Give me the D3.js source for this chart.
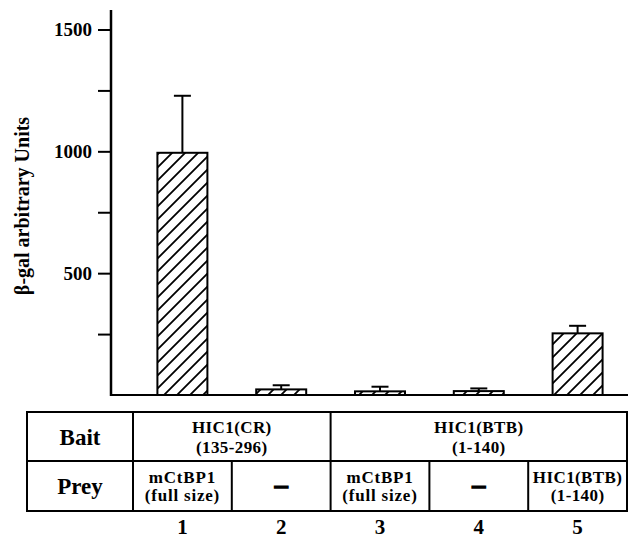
<!DOCTYPE html>
<html>
<head>
<meta charset="utf-8">
<script src="https://cdn.jsdelivr.net/npm/d3@7"></script>
<style>
  body { margin: 0; background: #fff; }
  text { font-family: "Liberation Serif", "Times New Roman", serif; font-weight: bold; fill: #000; }
</style>
</head>
<body>
<div id="chart"></div>
<script>
// lanes and β-gal values (mean, upper error bar top)
const lanes = ["1", "2", "3", "4", "5"]
const means = [994, 23, 15, 16, 253]
const errTops = [1228, 40, 34, 27, 284]

// y axis ticks
const yTicks = [250, 500, 750, 1000, 1250, 1500]
const yTickLabels = [500, 1000, 1500]

// table below the chart
const baitGroups = [
    { lines: ["HIC1(CR)", "(135-296)"], first: "1", last: "2" },
    { lines: ["HIC1(BTB)", "(1-140)"], first: "3", last: "5" }
]
const preyLabels = [
    ["mCtBP1", "(full size)"],
    ["–"],
    ["mCtBP1", "(full size)"],
    ["–"],
    ["HIC1(BTB)", "(1-140)"]
]

const W = 628, H = 540
const serif = "'Liberation Serif', 'Times New Roman', serif"

const svg = d3.select("#chart")
    .append("svg")
    .attr("width", W)
    .attr("height", H)

// hatch pattern "/"
const defs = svg.append("defs")
defs.append("pattern")
    .attr("id", "hatch")
    .attr("patternUnits", "userSpaceOnUse")
    .attr("width", 13)
    .attr("height", 13)
    .append("path")
    .attr("d", "M-2,2 l4,-4 M0,13 l13,-13 M11,15 l4,-4")
    .attr("stroke", "#000")
    .attr("stroke-width", 1.8)

// scales
const x = d3.scaleBand()
    .domain(lanes)
    .range([133, 627])
    .paddingInner(0.494)
    .paddingOuter(0.247)

const y = d3.scaleLinear()
    .domain([0, 1580])
    .range([395, 10])

const axisX = 111

// y axis
const yAxis = svg.append("g")
    .attr("transform", "translate(" + axisX + ",0)")
    .call(d3.axisLeft(y)
        .tickValues(yTicks)
        .tickSize(13)
        .tickPadding(6)
        .tickFormat(d => yTickLabels.includes(d) ? d : ""))
    .attr("font-family", serif)
    .attr("font-size", 19)
    .attr("font-weight", "bold")

yAxis.select(".domain").remove()
yAxis.selectAll(".tick line").attr("stroke", "#000").attr("stroke-width", 2)

svg.append("line")
    .attr("x1", axisX).attr("x2", axisX)
    .attr("y1", y.range()[1]).attr("y2", y(0) + 1)
    .attr("stroke", "#000").attr("stroke-width", 2.5)

// baseline
svg.append("line")
    .attr("x1", axisX).attr("x2", W)
    .attr("y1", y(0)).attr("y2", y(0))
    .attr("stroke", "#000").attr("stroke-width", 2)

// y label
svg.append("text")
    .attr("transform", "translate(29," + 206 + ") rotate(-90)")
    .attr("text-anchor", "middle")
    .style("font-size", "20px")
    .text("β-gal arbitrary Units")

// error bars
const errG = svg.append("g")
lanes.forEach((lane, i) => {
    const cx = x(lane) + x.bandwidth() / 2
    errG.append("line")
        .attr("x1", cx).attr("x2", cx)
        .attr("y1", y(means[i])).attr("y2", y(errTops[i]))
        .attr("stroke", "#000").attr("stroke-width", 2)
    errG.append("line")
        .attr("x1", cx - 8.5).attr("x2", cx + 8.5)
        .attr("y1", y(errTops[i])).attr("y2", y(errTops[i]))
        .attr("stroke", "#000").attr("stroke-width", 2)
})

// bars
svg.append("g")
    .selectAll("rect")
    .data(lanes)
    .join("rect")
    .attr("x", d => x(d))
    .attr("y", (d, i) => y(means[i]))
    .attr("width", x.bandwidth())
    .attr("height", (d, i) => y(0) - y(means[i]))
    .attr("fill", "url(#hatch)")
    .attr("stroke", "#000")
    .attr("stroke-width", 2)

/* ---------- table ---------- */
const tLeft = 27, tRight = 627
const rowTop = 412, rowMid = 461, rowBot = 511
const colStart = lane => x(lane) - x.step() * x.paddingInner() / 2
const colEnd = lane => colStart(lane) + x.step()

const table = svg.append("g")
table.append("rect")
    .attr("x", tLeft).attr("y", rowTop)
    .attr("width", tRight - tLeft).attr("height", rowBot - rowTop)
    .attr("fill", "none").attr("stroke", "#000").attr("stroke-width", 2)

table.append("line")
    .attr("x1", tLeft).attr("x2", tRight)
    .attr("y1", rowMid).attr("y2", rowMid)
    .attr("stroke", "#000").attr("stroke-width", 2)

// column separators (prey row: every lane; bait row: only group edges)
lanes.forEach(lane => {
    const isGroupEdge = baitGroups.some(g => g.first === lane)
    table.append("line")
        .attr("x1", colStart(lane)).attr("x2", colStart(lane))
        .attr("y1", isGroupEdge ? rowTop : rowMid).attr("y2", rowBot)
        .attr("stroke", "#000").attr("stroke-width", 2)
})

// row headers
const labelCx = (tLeft + colStart(lanes[0])) / 2
table.append("text")
    .attr("x", labelCx).attr("y", (rowTop + rowMid) / 2 + 8)
    .attr("text-anchor", "middle")
    .style("font-size", "23px")
    .text("Bait")
table.append("text")
    .attr("x", labelCx).attr("y", (rowMid + rowBot) / 2 + 8)
    .attr("text-anchor", "middle")
    .style("font-size", "23px")
    .text("Prey")

// bait cells
baitGroups.forEach(g => {
    const cx = (colStart(g.first) + colEnd(g.last)) / 2
    g.lines.forEach((t, j) => {
        table.append("text")
            .attr("x", cx).attr("y", rowTop + 21 + j * 20)
            .attr("text-anchor", "middle")
            .style("font-size", "17px")
            .style("letter-spacing", "0.4px")
            .text(t)
    })
})

// prey cells
preyLabels.forEach((lines, i) => {
    const cx = x(lanes[i]) + x.bandwidth() / 2
    if (lines.length === 1) {
        table.append("text")
            .attr("x", cx).attr("y", (rowMid + rowBot) / 2 + 7)
            .attr("text-anchor", "middle")
            .style("font-size", "26px")
            .attr("stroke", "#000").attr("stroke-width", 1.5)
            .text(lines[0])
    } else {
        lines.forEach((t, j) => {
            table.append("text")
                .attr("x", cx).attr("y", rowMid + 22 + j * 18)
                .attr("text-anchor", "middle")
                .style("font-size", "17px")
                .style("letter-spacing", lines[0] === "mCtBP1" ? "0.8px" : "0.4px")
                .text(t)
        })
    }
})

// lane numbers
svg.append("g")
    .selectAll("text")
    .data(lanes)
    .join("text")
    .attr("x", d => x(d) + x.bandwidth() / 2)
    .attr("y", 534)
    .attr("text-anchor", "middle")
    .style("font-size", "21px")
    .text(d => d)
</script>
</body>
</html>
